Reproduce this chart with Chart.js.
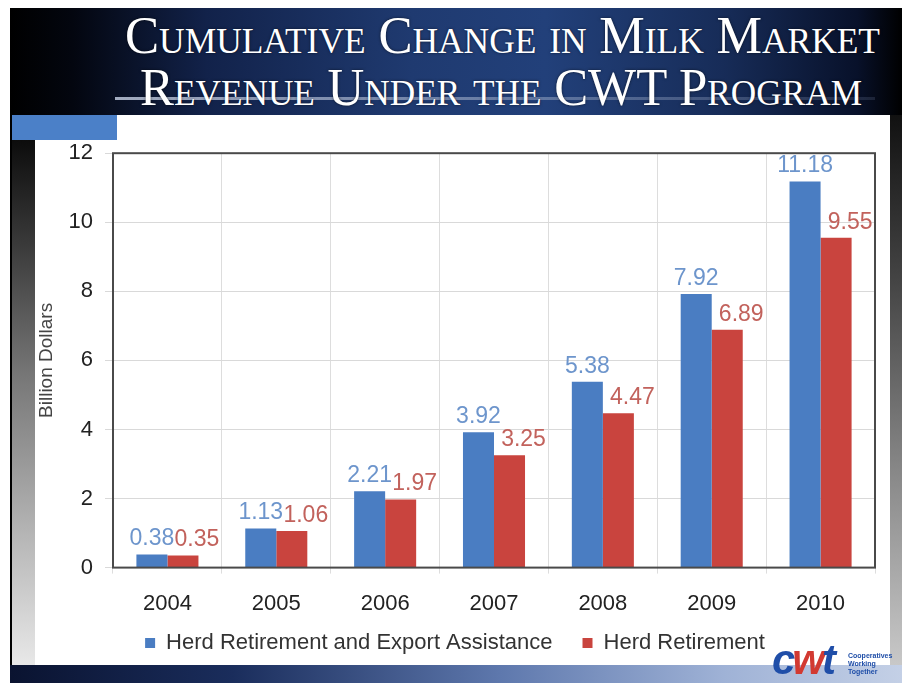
<!DOCTYPE html>
<html>
<head>
<meta charset="utf-8">
<script src="https://cdn.jsdelivr.net/npm/chart.js@4.4.1/dist/chart.umd.min.js"></script>
<style>
  body { margin: 0; width: 902px; height: 683px; background: #fff; position: relative; overflow: hidden; font-family: "Liberation Sans", Arial, sans-serif; }
  .abs { position: absolute; }
  #frame { left: 10px; top: 8px; width: 892px; height: 675px; background: #000; }
  #header { left: 10px; top: 8px; width: 892px; height: 107px;
    background: linear-gradient(90deg, #000 0%, #03060f 7%, #12224a 22%, #1f3a70 45%, #22407a 60%, #172c58 80%, #08112a 95%, #000 100%); }
  #rule { left: 115px; top: 97px; width: 760px; height: 3px;
    background: linear-gradient(90deg, rgba(190,200,220,0.85), rgba(150,165,195,0.5) 60%, rgba(120,135,170,0.2)); }
  .title { color: #fff; font-family: "Liberation Serif", "DejaVu Serif", serif; font-variant: small-caps;
    font-size: 52px; line-height: 52px; white-space: nowrap; transform-origin: 0 0; text-shadow: 0 0 3px rgba(0,0,0,0.6); }
  #content { left: 35px; top: 115px; width: 855px; height: 550px; background: #fff; }
  #bluebox { left: 12px; top: 115px; width: 105px; height: 25px; background: #4b80c8; }
  #leftstrip { left: 12px; top: 140px; width: 23px; height: 525px;
    background: linear-gradient(180deg, #0c0c0c 0%, #3a3a3a 20%, #777 45%, #b5b5b5 75%, #e8e8e8 100%); }
  #rightstrip { left: 890px; top: 115px; width: 12px; height: 550px;
    background: linear-gradient(180deg, #111 0%, #444 30%, #888 65%, #c8c8c8 100%); }
  #bottom { left: 10px; top: 665px; width: 892px; height: 18px;
    background: linear-gradient(90deg, #0a1330 0%, #1a2d5c 25%, #5e78ad 55%, #9fb2d6 80%, #c4d0e6 100%); }
  #chartbox { left: 35px; top: 128px; }
  #logo { left: 772px; top: 640px; height: 43px; width: 130px; }
  #cwt { position: absolute; left: 0; top: -4px; font: italic bold 42px "Liberation Sans", Arial, sans-serif; color: #1f4ea8; letter-spacing: -3px; }
  #cwt span { color: #d23a32; }
  #tag { position: absolute; left: 76px; top: 12px; font: bold 7px "Liberation Sans", Arial, sans-serif; color: #1f4ea8; line-height: 8px; }
</style>
</head>
<body>
<div id="frame" class="abs"></div>
<div id="header" class="abs"></div>
<div id="rule" class="abs"></div>
<div id="t1" class="abs title" style="left:125px; top:10px;">Cumulative Change in Milk Market</div>
<div id="t2" class="abs title" style="left:140px; top:62px;">Revenue Under the CWT Program</div>
<div id="content" class="abs"></div>
<div id="bluebox" class="abs"></div>
<div id="leftstrip" class="abs"></div>
<div id="rightstrip" class="abs"></div>
<div id="bottom" class="abs"></div>
<div id="chartbox" class="abs"><canvas id="chart" width="855" height="568"></canvas></div>
<div id="logo" class="abs"><div id="cwt">c<span>w</span>t</div><div id="tag">Cooperatives<br>Working<br>Together</div></div>
<script>
// squeeze the title lines to the reference width
[["t1", 755], ["t2", 722]].forEach(([id, w]) => {
    const el = document.getElementById(id);
    const s = w / el.getBoundingClientRect().width;
    el.style.transform = "scaleX(" + s + ")";
});

const years = ["2004", "2005", "2006", "2007", "2008", "2009", "2010"];
const herdExport = [0.38, 1.13, 2.21, 3.92, 5.38, 7.92, 11.18];
const herdOnly = [0.35, 1.06, 1.97, 3.25, 4.47, 6.89, 9.55];

const labelColors = ["#6d95cc", "#c2625c"];
const labelShift = [0, 14];

const barLabels = {
    id: "barLabels",
    afterDatasetsDraw(chart) {
        const c = chart.ctx;
        c.save();
        c.font = "23px 'Liberation Sans', Arial, sans-serif";
        c.textAlign = "center";
        c.textBaseline = "bottom";
        chart.data.datasets.forEach((ds, i) => {
            c.fillStyle = labelColors[i];
            chart.getDatasetMeta(i).data.forEach((bar, j) => {
                c.fillText(ds.data[j].toFixed(2), bar.x + labelShift[i], bar.y - 4);
            });
        });
        c.restore();
    }
};

const plotFrame = {
    id: "plotFrame",
    afterDraw(chart) {
        const a = chart.chartArea;
        const c = chart.ctx;
        c.save();
        c.strokeStyle = "#4a4a4a";
        c.lineWidth = 2;
        c.strokeRect(a.left, a.top, a.right - a.left, a.bottom - a.top);
        c.restore();
    }
};

// pull the legend row up closer to the year labels
const legendNudge = {
    id: "legendNudge",
    afterLayout(chart) {
        chart.legend.top -= 32;
        chart.legend.bottom -= 32;
    }
};

const ctx = document.getElementById("chart");

new Chart(ctx, {
    type: "bar",
    data: {
        labels: years,
        datasets: [{
            label: "Herd Retirement and Export Assistance",
            data: herdExport,
            backgroundColor: "#4a7dc2"
        }, {
            label: "Herd Retirement",
            data: herdOnly,
            backgroundColor: "#c9443e"
        }]
    },
    options: {
        responsive: false,
        animation: false,
        layout: { padding: { top: 0, right: 15, left: 0, bottom: 0 } },
        datasets: {
            bar: { categoryPercentage: 0.57, barPercentage: 1.0 }
        },
        scales: {
            x: {
                grid: { color: "#dddddd", tickLength: 6, offset: true },
                border: { display: false },
                ticks: { color: "#222", font: { size: 22, family: "'Liberation Sans', Arial, sans-serif" }, padding: 17 }
            },
            y: {
                min: 0,
                max: 12,
                ticks: { stepSize: 2, color: "#222", font: { size: 22, family: "'Liberation Sans', Arial, sans-serif" }, padding: 12 },
                grid: { color: "#d9d9d9", tickLength: 8 },
                border: { display: false },
                title: {
                    display: true,
                    text: "Billion Dollars",
                    color: "#444",
                    font: { size: 19, family: "'Liberation Sans', Arial, sans-serif" },
                    padding: { top: 0, bottom: 0 }
                },
                afterFit: (s) => { s.width = 78; }
            }
        },
        plugins: {
            legend: {
                position: "bottom",
                labels: {
                    boxWidth: 10,
                    boxHeight: 10,
                    padding: 30,
                    color: "#333",
                    font: { size: 22, family: "'Liberation Sans', Arial, sans-serif" }
                }
            },
            tooltip: { enabled: false }
        }
    },
    plugins: [barLabels, plotFrame, legendNudge]
});
</script>
</body>
</html>
